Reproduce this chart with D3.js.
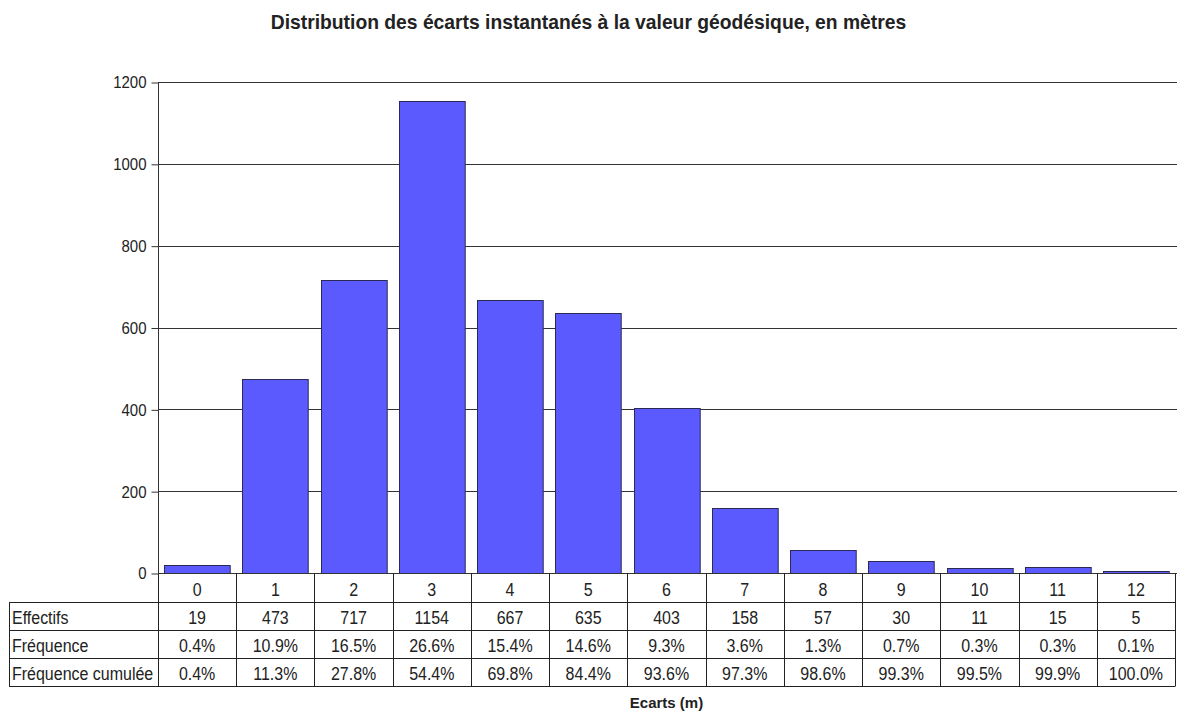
<!DOCTYPE html>
<html>
<head>
<meta charset="utf-8">
<script src="https://cdn.jsdelivr.net/npm/d3@7"></script>
<style>
  body { margin: 0; background: white; }
  text { fill: #222; }
</style>
</head>
<body>
<svg id="plot"></svg>
<script>
// data
const categories = ['0', '1', '2', '3', '4', '5', '6', '7', '8', '9', '10', '11', '12'];
const effectifs = [19, 473, 717, 1154, 667, 635, 403, 158, 57, 30, 11, 15, 5];
const frequence = ['0.4%', '10.9%', '16.5%', '26.6%', '15.4%', '14.6%', '9.3%', '3.6%', '1.3%', '0.7%', '0.3%', '0.3%', '0.1%'];
const frequenceCumulee = ['0.4%', '11.3%', '27.8%', '54.4%', '69.8%', '84.4%', '93.6%', '97.3%', '98.6%', '99.3%', '99.5%', '99.9%', '100.0%'];
const yTicks = [0, 200, 400, 600, 800, 1000, 1200];
const rowNames = ['Effectifs', 'Fréquence', 'Fréquence cumulée'];

let width = 1177, height = 711;
let margin = { top: 82, bottom: 138, left: 158, right: 2 };
let tableLeft = 9, rowH = 28;

let svg = d3.select('#plot')
  .attr('width', width)
  .attr('height', height)
  .style('background', 'white')
  .style('font-family', '"Liberation Sans", Arial, sans-serif');

let xScale = d3.scaleBand()
  .domain(categories)
  .range([margin.left, width - margin.right])
  .paddingInner(0.16)
  .paddingOuter(0.08);

let yScale = d3.scaleLinear()
  .domain([0, 1200])
  .range([height - margin.bottom, margin.top]);

let y0 = yScale(0);
let step = xScale.step();
let colX = i => margin.left + i * step;

// title
svg.append('text')
  .attr('x', width / 2)
  .attr('y', 29)
  .attr('text-anchor', 'middle')
  .style('font-weight', 'bold')
  .style('font-size', '19.3px')
  .text('Distribution des écarts instantanés à la valeur géodésique, en mètres');

// gridlines
svg.append('g')
  .selectAll('line')
  .data(yTicks.filter(d => d > 0))
  .enter()
  .append('line')
  .attr('x1', margin.left)
  .attr('x2', width)
  .attr('y1', d => Math.round(yScale(d)) + 0.5)
  .attr('y2', d => Math.round(yScale(d)) + 0.5)
  .attr('stroke', '#333')
  .attr('stroke-width', 1);

// y axis
let yAxis = svg.append('g')
  .attr('transform', `translate(${margin.left + 0.5}, 0.5)`)
  .call(d3.axisLeft(yScale).tickValues(yTicks).tickSize(7).tickPadding(5).tickFormat(d3.format('d')));
yAxis.select('.domain').attr('stroke', '#333').attr('d', `M0,${yScale(1200)}V${y0}`);
yAxis.selectAll('.tick line').attr('stroke', '#333');
yAxis.selectAll('.tick text')
  .style('font-size', '15px')
  .style('font-family', '"Liberation Sans", Arial, sans-serif')
  .attr('transform', 'scale(1,1.12)')
  .attr('fill', '#333');

// bars
svg.append('g')
  .selectAll('rect')
  .data(effectifs)
  .enter()
  .append('rect')
  .attr('x', (d, i) => Math.round(xScale(categories[i])) + 0.5)
  .attr('y', d => Math.round(yScale(d)) + 0.5)
  .attr('width', xScale.bandwidth())
  .attr('height', d => Math.round(y0) - Math.round(yScale(d)))
  .attr('fill', '#5a5aff')
  .attr('stroke', '#2a2a55')
  .attr('stroke-width', 1);

// x axis line
svg.append('line')
  .attr('x1', margin.left).attr('x2', width)
  .attr('y1', Math.round(y0) + 0.5).attr('y2', Math.round(y0) + 0.5)
  .attr('stroke', '#333');

// data table
let table = svg.append('g');
let tableTop = Math.round(y0) + 0.5;
let rowsTop = tableTop + rowH;
let tableBottom = rowsTop + rowH * 3;
let right = width - margin.right;

// horizontal lines
[rowsTop, rowsTop + rowH, rowsTop + rowH * 2, tableBottom].forEach(yy => {
  table.append('line')
    .attr('x1', tableLeft).attr('x2', right)
    .attr('y1', Math.round(yy) + 0.5).attr('y2', Math.round(yy) + 0.5)
    .attr('stroke', '#222');
});
// vertical lines
d3.range(categories.length + 1).forEach(i => {
  table.append('line')
    .attr('x1', Math.round(colX(i)) + 0.5).attr('x2', Math.round(colX(i)) + 0.5)
    .attr('y1', tableTop).attr('y2', Math.round(tableBottom) + 0.5)
    .attr('stroke', '#222');
});
table.append('line')
  .attr('x1', tableLeft + 0.5).attr('x2', tableLeft + 0.5)
  .attr('y1', Math.round(rowsTop) + 0.5).attr('y2', Math.round(tableBottom) + 0.5)
  .attr('stroke', '#222');

// text a little taller than wide, like the original
function cellText(sel, x, y) {
  sel.attr('transform', (d, i) => `translate(${x(d, i)},${y}) scale(1,1.1)`)
    .style('font-size', '16px')
    .attr('fill', '#333');
}

// category labels
table.selectAll('.cat')
  .data(categories)
  .enter()
  .append('text')
  .attr('class', 'cat')
  .attr('text-anchor', 'middle')
  .text(d => d)
  .call(cellText, d => xScale(d) + xScale.bandwidth() / 2, tableTop + rowH - 6);

// row headers and cells
let rows = [effectifs, frequence, frequenceCumulee];
rows.forEach((vals, r) => {
  let by = rowsTop + rowH * (r + 1) - 6;
  table.append('text')
    .text(rowNames[r])
    .call(cellText, () => tableLeft + 3, by);
  table.selectAll('.r' + r)
    .data(vals)
    .enter()
    .append('text')
    .attr('class', 'r' + r)
    .attr('text-anchor', 'middle')
    .text(d => d)
    .call(cellText, (d, i) => xScale(categories[i]) + xScale.bandwidth() / 2, by);
});

// x axis title
svg.append('text')
  .attr('x', (margin.left + right) / 2)
  .attr('y', 708)
  .attr('text-anchor', 'middle')
  .style('font-weight', 'bold')
  .style('font-size', '15px')
  .text('Ecarts (m)');
</script>
</body>
</html>
